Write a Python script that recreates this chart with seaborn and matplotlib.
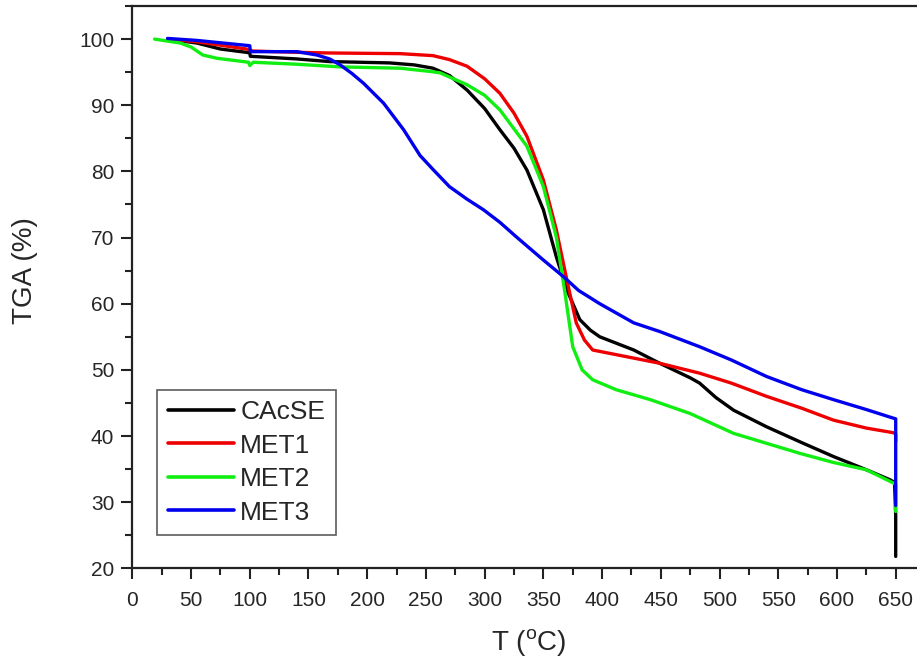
import numpy as np
import pandas as pd
import matplotlib
matplotlib.use("Agg")
import matplotlib.pyplot as plt
from matplotlib.ticker import MultipleLocator
import seaborn as sns

# ---- data ----
cacse_T = [30, 55, 75, 97, 100, 100.5, 140, 168, 219, 240, 256, 270, 285, 300, 313, 325, 336,
           350, 361, 370, 381, 390, 398, 427, 449, 475, 483, 497, 512, 540, 570, 597, 625, 645, 649, 650, 650]
cacse_Y = [100, 99.4, 98.5, 98.0, 97.9, 97.4, 97.0, 96.6, 96.4, 96.1, 95.6, 94.5, 92.3, 89.5, 86.3, 83.5, 80.2,
           74.2, 67.1, 62.1, 57.6, 56.0, 55.0, 53.0, 51.0, 48.8, 48.0, 45.8, 43.9, 41.4, 39.0, 36.9, 34.9, 33.4, 33.0, 28.0, 21.8]

met1_T = [30, 55, 97, 100, 102, 140, 168, 228, 256, 270, 285, 300, 313, 325, 336, 350, 361, 370,
          378, 385, 392, 412, 449, 483, 510, 540, 570, 597, 625, 648, 650, 650]
met1_Y = [100, 99.6, 98.5, 98.4, 98.2, 98.0, 97.9, 97.8, 97.5, 96.9, 95.9, 94.0, 91.8, 88.8, 85.3, 78.7, 71.2, 63.6,
          57.1, 54.5, 53.0, 52.3, 51.0, 49.5, 48.0, 46.0, 44.2, 42.4, 41.2, 40.5, 40.3, 39.2]

met2_T = [19, 41, 50, 60, 72, 99, 100, 103, 140, 177, 228, 254, 262, 285, 300, 313, 336, 350, 361,
          368, 375, 383, 392, 412, 441, 475, 512, 540, 568, 597, 625, 648, 650, 650]
met2_Y = [100, 99.4, 98.8, 97.6, 97.1, 96.5, 96.0, 96.5, 96.2, 95.8, 95.6, 95.1, 94.9, 93.1, 91.5, 89.3, 83.8, 77.7, 70.1,
          62.1, 53.5, 50.0, 48.5, 47.0, 45.5, 43.4, 40.4, 38.9, 37.4, 36.0, 34.9, 32.9, 32.7, 28.6]

met3_T = [30, 55, 100, 100.5, 106, 140, 157, 168, 177, 187, 197, 214, 231, 245, 256, 270, 285, 299, 313,
          327, 350, 367, 380, 398, 427, 449, 483, 510, 540, 570, 597, 625, 648, 650, 650]
met3_Y = [100.1, 99.8, 99.0, 98.1, 98.1, 98.1, 97.6, 97.0, 96.1, 94.8, 93.3, 90.3, 86.3, 82.4, 80.3, 77.7, 75.8, 74.2, 72.3,
          70.1, 66.6, 64.1, 62.0, 60.0, 57.1, 55.8, 53.5, 51.5, 49.0, 47.0, 45.5, 44.0, 42.7, 42.6, 29.5]

series_names = ["CAcSE", "MET1", "MET2", "MET3"]
series_colors = ["#000000", "#ee0000", "#11ee11", "#0000ee"]

frames = []
for name, T, Y in zip(series_names, [cacse_T, met1_T, met2_T, met3_T], [cacse_Y, met1_Y, met2_Y, met3_Y]):
    frames.append(pd.DataFrame({"T": T, "TGA": Y, "sample": name}))
df = pd.concat(frames, ignore_index=True)

sns.set_style("ticks")
plt.rcParams["font.family"] = ["Liberation Sans", "DejaVu Sans"]
plt.rcParams["mathtext.fontset"] = "custom"
plt.rcParams["mathtext.rm"] = "Liberation Sans"

fig = plt.figure(figsize=(9.17, 6.61), dpi=100)
ax = fig.add_axes([0.1443, 0.1402, 0.8709, 0.8507])

sns.lineplot(data=df, x="T", y="TGA", hue="sample", hue_order=series_names,
             palette=dict(zip(series_names, series_colors)), estimator=None, sort=False,
             units="sample", linewidth=2.4, ax=ax, legend=True)

ax.set_xlim(0, 680)
ax.set_ylim(20, 105)
ax.xaxis.set_major_locator(MultipleLocator(50))
ax.xaxis.set_minor_locator(MultipleLocator(25))
ax.yaxis.set_major_locator(MultipleLocator(10))
ax.yaxis.set_minor_locator(MultipleLocator(5))
ax.tick_params(which="major", direction="out", length=8, width=1.5, labelsize=15, color="#222222")
ax.tick_params(which="minor", direction="out", length=5, width=1.5, color="#222222")
ax.tick_params(axis="x", which="major", pad=8)
ax.tick_params(axis="y", which="major", pad=5)

for s in ["left", "bottom", "top"]:
    ax.spines[s].set_visible(True)
    ax.spines[s].set_linewidth(1.6)
    ax.spines[s].set_color("#222222")
ax.spines["right"].set_visible(False)

ax.set_xlabel(r"T ($^{\mathrm{o}}$C)", fontsize=20)
ax.set_ylabel("TGA (%)", fontsize=20)
ax.xaxis.set_label_coords(0.496, -0.105)
ax.yaxis.set_label_coords(-0.118, 0.530)

handles, labels = ax.get_legend_handles_labels()
leg = ax.legend(handles, labels, loc="lower left", bbox_to_anchor=(0.031, 0.059), borderaxespad=0,
                fontsize=19, frameon=True, fancybox=False, handlelength=2.5, handletextpad=0.25,
                labelspacing=0.36, borderpad=0.4)
leg.get_frame().set_edgecolor("#333333")
leg.get_frame().set_linewidth(1.2)
for line in leg.get_lines():
    line.set_linewidth(2.6)

fig.savefig("out.png", dpi=100)
